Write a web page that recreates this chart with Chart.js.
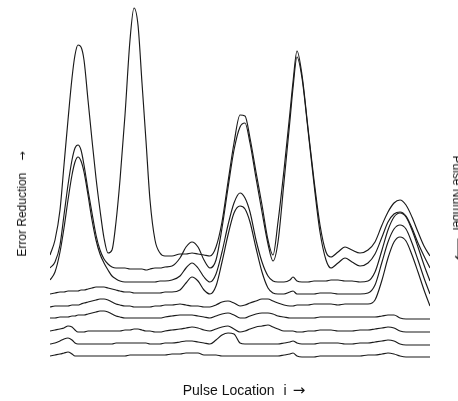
<!DOCTYPE html>
<html><head><meta charset="utf-8">
<script src="https://cdn.jsdelivr.net/npm/chart.js@4.4.1/dist/chart.umd.min.js"></script>
<style>
html,body{margin:0;padding:0;background:#fff;overflow:hidden}
#wrap{position:relative;width:458px;height:401px;overflow:hidden;background:#fff}
canvas{position:absolute;left:0;top:0}
.lbl{position:absolute;font-family:"Liberation Sans",Arial,Helvetica,sans-serif;color:#111;white-space:pre;line-height:1}
.arr{font-family:"DejaVu Sans",sans-serif}
#yl{left:22px;top:204px;font-size:12px;transform:translate(-50%,-50%) rotate(-90deg)}
#xl{left:244px;top:390px;font-size:14px;transform:translate(-50%,-50%)}
#rl{left:458px;top:208px;font-size:12px;transform:translate(-50%,-50%) rotate(90deg)}
</style></head><body>
<div id="wrap">
<canvas id="c" width="458" height="401"></canvas>
<div class="lbl" id="yl">Error Reduction<span class="arr" style="margin-left:12px;font-size:11px">→</span></div>
<div class="lbl" id="xl">Pulse Location<span style="margin-left:9px">i</span><span class="arr" style="margin-left:6px;font-size:15px">→</span></div>
<div class="lbl" id="rl">Pulse Number<span class="arr" style="margin-left:6px;font-size:16px">⟶</span></div>
</div>
<script>
// pulse location i (sample index)
const pulseLocation = [0,5,10,14,18,22,25,28,31,34,38,42,46,50,54,58,62,66,70,75,80,84,88,92,96,100,105,110,115,122,130,136,142,148,154,160,166,172,178,184,190,195,200,206,212,218,223,228,234,240,243,247,252,258,264,270,276,281,288,295,302,310,318,325,332,338,344,350,356,362,368,374,380];

// error reduction curves (successive iterations, top to bottom)
const iter1 = [115,130,160,205,250,292,315,325,323,310,270,230,192,160,132,117,120,148,190,255,330,362,345,287,229,170,130,117,114,114,116,116,117,116,115,114,123,148,188,227,255,254,232,198,165,130,115,148,200,258,288,319,295,242,190,145,118,113,118,123,120,117,120,128,145,158,167,170,165,153,138,124,114];
const iter2 = [102,108,125,155,185,210,222,225,220,205,180,157,135,120,111,106,103,102,102,102,101,101,101,101,100,101,102,102,103,104,112,123,128,123,110,102,110,142,182,220,243,247,227,192,158,126,109,128,188,250,282,313,292,240,186,138,110,102,107,112,108,104,107,116,133,148,156,158,154,142,127,114,102];
const iter3 = [90,98,118,142,170,195,208,213,209,198,175,150,130,116,107,100,94,91,89,88,88,88,88,88,88,88,88,89,89,90,94,102,107,102,93,88,96,118,145,167,177,172,158,130,108,94,89,88,88,90,93,89,88,88,89,89,89,90,90,89,89,88,89,98,120,140,153,157,153,140,123,105,89];
const iter4 = [76,77,78,78,79,79,79,79,80,80,81,82,83,83,83,82,81,80,79,78,78,77,77,77,77,77,77,77,78,78,80,87,93,89,80,76,84,108,135,157,164,161,148,122,98,82,77,76,76,78,79,76,76,76,76,77,77,77,76,76,76,76,77,85,108,128,141,145,141,127,110,92,76];
const iter5 = [63,64,64,64,64,65,65,65,66,67,68,69,70,71,71,70,68,66,65,64,64,63,63,63,63,63,64,64,65,65,66,65,64,64,63,63,65,68,69,67,64,65,67,69,71,71,69,67,65,64,64,65,65,65,66,66,66,66,65,66,66,66,66,70,90,112,128,133,129,115,98,80,64];
const iter6 = [52,52,53,53,53,54,54,55,55,55,56,57,58,59,59,58,56,54,53,52,52,52,52,52,52,52,52,52,53,54,55,55,55,54,53,52,54,56,57,55,52,52,54,56,57,57,56,54,53,52,52,52,52,52,52,53,53,53,53,53,53,53,53,53,54,55,55,52,51,51,51,51,51];
const iter7 = [39,40,41,42,44,43,40,38,38,38,39,39,39,39,39,39,39,39,39,40,40,41,41,40,39,39,38,38,39,40,41,42,43,42,40,39,41,43,44,41,38,39,41,43,44,45,43,41,39,39,39,38,38,39,39,40,40,40,39,39,39,40,40,41,42,43,42,39,38,38,38,38,38];
const iter8 = [26,27,29,31,32,30,27,26,26,26,26,26,26,26,26,26,26,27,27,27,27,27,27,27,27,26,26,26,27,27,28,29,29,28,27,26,30,35,37,36,27,26,26,26,26,26,26,26,27,28,29,27,26,26,26,27,27,27,27,26,26,27,27,28,29,30,29,26,25,25,25,25,25];
const iter9 = [14,15,16,17,18,16,14,14,14,14,14,14,14,14,14,14,14,14,14,14,15,15,15,15,15,15,15,15,15,16,16,17,17,17,15,15,15,14,14,14,14,14,14,14,14,14,14,14,15,16,17,14,13,13,13,14,14,14,14,14,14,14,15,15,16,17,16,14,13,13,13,13,13];

const curves = [iter1, iter2, iter3, iter4, iter5, iter6, iter7, iter8, iter9];
const datasets = curves.map((vals, k) => ({
  label: 'Iteration ' + (k + 1),
  data: pulseLocation.map((x, j) => ({x: x, y: vals[j]})),
  borderColor: '#1a1a1a',
  borderWidth: 1.15,
  pointRadius: 0,
  fill: false,
  cubicInterpolationMode: 'monotone'
}));

new Chart(document.getElementById('c'), {
  type: 'line',
  data: {datasets: datasets},
  options: {
    responsive: false,
    animation: false,
    devicePixelRatio: 1,
    layout: {padding: {left: 50, right: 28, top: 0, bottom: 31}},
    plugins: {legend: {display: false}, tooltip: {enabled: false}},
    scales: {
      x: {type: 'linear', min: 0, max: 380, display: false},
      y: {min: 0, max: 370, display: false}
    }
  }
});
</script>
</body></html>
